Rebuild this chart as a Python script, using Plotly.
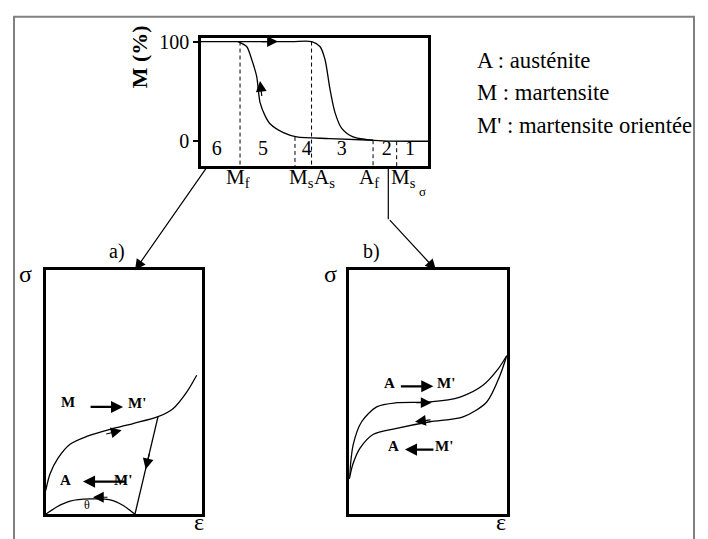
import plotly.graph_objects as go

W, H = 708, 539
def px(x): return x / W
def py(y): return 1 - y / H

SERIF = "Liberation Serif, Times New Roman, Times, DejaVu Serif, serif"

# ---------------- data ----------------
# top panel : martensite fraction M (%) versus temperature (arbitrary units 0-100)
heat_T = [0, 20, 40, 48.8, 52.4, 54.6, 56.8, 59.0, 62.0, 67.0, 73.0, 80.2, 100]
heat_M = [100, 100, 100, 100, 95, 82.2, 52.5, 29, 12.9, 4.3, 1.7, 0.3, 0]
cool_T = [75.8, 56.8, 42.2, 36.3, 30.4, 28.2, 26.0, 24.5, 22.3, 20.1, 16.3]
cool_M = [1.0, 2.7, 4.3, 8.6, 17.5, 25.7, 38.9, 65.3, 82.2, 95, 100]

trans_T = [17.2, 41.4, 48.7, 75.8, 86.2]          # Mf, Ms, As, Af, Ms_sigma
trans_top = [100, 4.3, 100, 1.0, 0]               # where each dashed line starts
trans_label = ["M<sub>f</sub>", "M<sub>s</sub>", "A<sub>s</sub>", "A<sub>f</sub>", "M<sub>s</sub>"]
trans_label_T = [16.1, 44.3, 54.6, 73.8, 89.2]

region_label = ["6", "5", "4", "3", "2", "1"]
region_T = [6.9, 27.3, 46.6, 62.0, 81.8, 92.1]
region_M = -9.0

y_tickvals = [0, 100]
y_ticktext = ["0", "100"]

# panel a) : stress sigma versus strain epsilon (martensite reorientation)
a_load_e = [0, 2.8, 7.9, 15.6, 26.3, 41.2, 56, 72, 81.6, 90.4, 96.8]
a_load_s = [9.7, 16.6, 23, 28.7, 31.9, 34.8, 37.2, 40, 43.3, 50.1, 57]
a_unload_e = [72, 57.2]
a_unload_s = [40, 0]
a_arc_e = [0, 7, 15.6, 28.4, 41.2, 49.7, 57.2]
a_arc_s = [0, 3, 5.4, 6.3, 5.9, 3.6, 0]

# panel b) : superelastic loop
b_load_e = [0, 2.5, 7.8, 17.3, 30, 51.1, 70.1, 84.6, 94.1, 99.6]
b_load_s = [14.5, 28.6, 37.9, 44, 45.7, 46, 48, 52.8, 59.4, 64.9]
b_unload_e = [99.6, 95.4, 87, 72, 51.1, 30, 15, 6.8, 2.3, 0]
b_unload_s = [64.9, 56.9, 46, 39.9, 37.9, 35.2, 32.7, 27.1, 20.6, 14.5]

legend_lines = ["A : austénite", "M : martensite", "M' : martensite orientée"]

# ---------------- layout geometry (pixels) ----------------
TOP = dict(x0=201, x1=428, y0=31, y1=161)
PA = dict(x0=45.7, x1=201.7, y0=266.7, y1=514)
PB = dict(x0=349.3, x1=507.3, y0=266.5, y1=514)

# y range of the top panel so that 0 % sits at 136 px and 100 % at 35 px
ppu = (136 - 35) / 100
top_yr = [-(TOP["y1"] - 136) / ppu, (136 - TOP["y0"]) / ppu]

line = dict(color="black", width=1.3)
fig = go.Figure()

# top panel curves
fig.add_trace(go.Scatter(x=heat_T, y=heat_M, mode="lines", line=dict(shape="spline", smoothing=0.8, **line),
                         xaxis="x", yaxis="y"))
fig.add_trace(go.Scatter(x=cool_T, y=cool_M, mode="lines", line=dict(shape="spline", smoothing=0.8, **line),
                         xaxis="x", yaxis="y"))
for t, top in zip(trans_T, trans_top):
    fig.add_trace(go.Scatter(x=[t, t], y=[top, top_yr[0]], mode="lines",
                             line=dict(color="black", width=1, dash="4px,3px"), xaxis="x", yaxis="y"))
fig.add_trace(go.Scatter(x=region_T, y=[region_M] * len(region_T), mode="text", text=region_label,
                         textfont=dict(family=SERIF, size=20, color="black"), xaxis="x", yaxis="y"))

# panel a
for ex, sy in [(a_load_e, a_load_s), (a_arc_e, a_arc_s)]:
    fig.add_trace(go.Scatter(x=ex, y=sy, mode="lines", line=dict(shape="spline", smoothing=0.8, **line),
                             xaxis="x2", yaxis="y2"))
fig.add_trace(go.Scatter(x=a_unload_e, y=a_unload_s, mode="lines", line=line, xaxis="x2", yaxis="y2"))

# panel b
for ex, sy in [(b_load_e, b_load_s), (b_unload_e, b_unload_s)]:
    fig.add_trace(go.Scatter(x=ex, y=sy, mode="lines", line=dict(shape="spline", smoothing=0.8, **line),
                             xaxis="x3", yaxis="y3"))


def box_axis(P, horiz, anchor):
    dom = [px(P["x0"]), px(P["x1"])] if horiz else [py(P["y1"]), py(P["y0"])]
    return dict(domain=dom, range=[0, 100], showline=True, mirror=True, linecolor="black", linewidth=2.5,
                showgrid=False, zeroline=False, showticklabels=False, ticks="", anchor=anchor, fixedrange=True)


xa = box_axis(TOP, True, "y")
ya = box_axis(TOP, False, "x")
ya.update(range=top_yr, showticklabels=True, ticks="outside", ticklen=5, tickwidth=1.5, tickcolor="black",
          tickvals=y_tickvals, ticktext=y_ticktext, tickfont=dict(family=SERIF, size=20, color="black"))

annotations = []

def txt(x, y, s, size=18, xref="paper", yref="paper", bold=False, xanchor="center", yanchor="middle", **kw):
    annotations.append(dict(x=x, y=y, xref=xref, yref=yref, text=("<b>%s</b>" % s) if bold else s,
                            showarrow=False, xanchor=xanchor, yanchor=yanchor,
                            font=dict(family=SERIF, size=size, color="black"), **kw))

def arr(x, y, ax, ay, xref, yref, width=1.2, size=1.8):
    annotations.append(dict(x=x, y=y, xref=xref, yref=yref, ax=ax, ay=ay, text=" ", showarrow=True,
                            font=dict(size=1), arrowhead=2, arrowsize=size, arrowwidth=width,
                            arrowcolor="black", standoff=0))

# top panel texts
txt(px(139), py(51), "M (%)", size=22, bold=True, textangle=-90)
for lab, t in zip(trans_label, trans_label_T):
    txt(t, py(173), lab, size=21, xref="x")
txt(px(422), py(187), "σ", size=13)

# top panel arrows
arr(33.9, 100, -18, 0, "x", "y")
arr(26.0, 60.4, 2, 17, "x", "y")

# legend text
for i, s in enumerate(legend_lines):
    txt(px(475), py(54 + 33 * i), s, size=22.7, xanchor="left")

# panel labels
txt(px(116.7), py(248), "a)", size=20)
txt(px(371.7), py(248), "b)", size=20)
for xx in (25, 330):
    txt(px(xx), py(271), "σ", size=24)
txt(px(199), py(522), "ε", size=24)
txt(px(501), py(522), "ε", size=24)

# panel a annotations
arr(48.7, 34.4, -17, 4, "x2", "y2")
arr(64.1, 18.5, 4, -17, "x2", "y2")
arr(30.3, 7.0, 16, 0, "x2", "y2")
txt(14.5, 46.0, "M", size=15, xref="x2", yref="y2", bold=True)
txt(58.8, 45.5, "M'", size=15, xref="x2", yref="y2", bold=True)
arr(49.6, 44.0, -34, 0, "x2", "y2", width=2.2, size=1.1)
txt(12.6, 14.0, "A", size=15, xref="x2", yref="y2", bold=True)
txt(49.4, 14.2, "M'", size=15, xref="x2", yref="y2", bold=True)
arr(23.9, 13.4, 44, 0, "x2", "y2", width=2.2, size=1.1)
txt(26.7, 3.8, "θ", size=12, xref="x2", yref="y2")

# panel b annotations
arr(52.1, 45.7, -17, 0, "x3", "y3")
arr(41.6, 37.9, 17, -2, "x3", "y3")
txt(25.7, 53.8, "A", size=15, xref="x3", yref="y3", bold=True)
arr(53.2, 52.4, -34, 0, "x3", "y3", width=2.2, size=1.1)
txt(61.2, 53.6, "M'", size=15, xref="x3", yref="y3", bold=True)
txt(27.8, 27.9, "A", size=15, xref="x3", yref="y3", bold=True)
arr(35.2, 26.5, 30, 0, "x3", "y3", width=2.2, size=1.1)
txt(60.0, 27.9, "M'", size=15, xref="x3", yref="y3", bold=True)

# connectors from the top diagram to the two stress-strain boxes
tipA = (135 - PA["x0"]) / (PA["x1"] - PA["x0"]) * 100
arr(tipA, 100, 208 - 135, TOP["y1"] + 1 - PA["y0"], "x2", "y2", width=1.2)
tipB = (436 - PB["x0"]) / (PB["x1"] - PB["x0"]) * 100
arr(tipB, 100, 388.3 - 436, 215 - PB["y0"], "x3", "y3", width=1.2)

shapes = [
    dict(type="line", xref="paper", yref="paper", x0=px(388.3), x1=px(388.3), y0=py(TOP["y1"] + 1), y1=py(215),
         line=dict(color="black", width=1.2)),
    dict(type="path", xref="paper", yref="paper",
         path="M %f %f L %f %f L %f %f L %f %f" % (px(14), py(545), px(14), py(10), px(694), py(10), px(694), py(545)),
         line=dict(color="#808080", width=2)),
]

fig.update_layout(
    width=W, height=H, margin=dict(l=0, r=0, t=0, b=0), showlegend=False,
    paper_bgcolor="white", plot_bgcolor="white", hovermode=False,
    xaxis=xa, yaxis=ya,
    xaxis2=box_axis(PA, True, "y2"), yaxis2=box_axis(PA, False, "x2"),
    xaxis3=box_axis(PB, True, "y3"), yaxis3=box_axis(PB, False, "x3"),
    annotations=annotations, shapes=shapes,
)

fig.write_html("out.html", config={"displayModeBar": False},
               post_script="document.body.style.margin='0px';document.body.style.overflow='hidden';")
